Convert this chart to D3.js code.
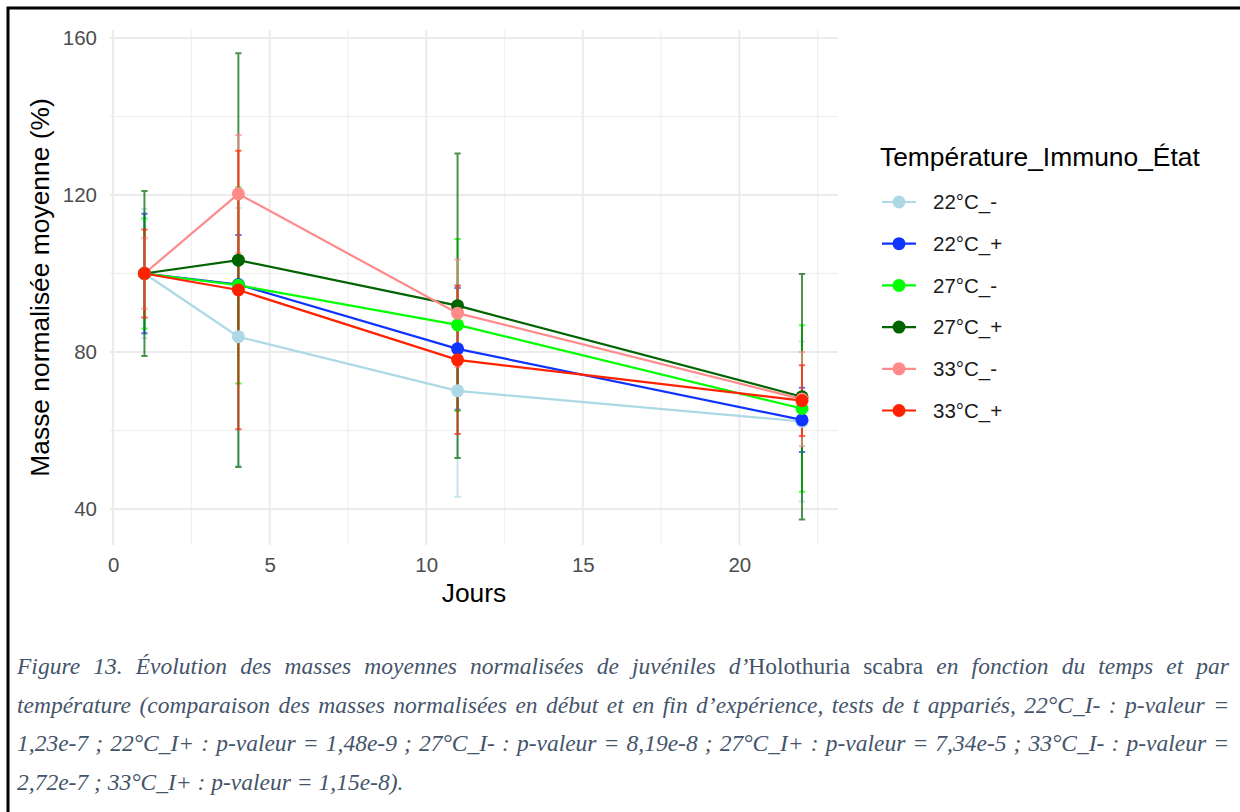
<!DOCTYPE html>
<html>
<head>
<meta charset="utf-8">
<script src="https://cdn.jsdelivr.net/npm/d3@7"></script>
<style>
  body { margin: 0; background: #fff; }
  #wrap { position: relative; width: 1240px; height: 812px; overflow: hidden; }
  .cap { position: absolute; left: 17px; width: 1212px; font-family: "Liberation Serif", "Times New Roman", serif;
         font-style: italic; font-size: 23.5px; line-height: 38.5px; color: #44546a; }
  .cap.just { text-align: justify; text-align-last: justify; }
  .cap .up { font-style: normal; }
</style>
</head>
<body>
<div id="wrap"><svg id="chart" width="1240" height="812"></svg></div>
<script>

var days = [1, 4, 11, 22];
var groups = ["22°C_-", "22°C_+", "27°C_-", "27°C_+", "33°C_-", "33°C_+"];
var colors = ["#add8e6", "#1034ff", "#00ff00", "#006400", "#ff8a8a", "#ff2200"];

// mean normalised mass (%) per group, per day
var means = [
  [100, 83.9, 70.1, 62.3],
  [100, 97.2, 80.8, 62.7],
  [100, 97.0, 86.9, 65.6],
  [100, 103.4, 91.8, 68.6],
  [100, 120.3, 89.9, 68.0],
  [100, 95.8, 78.0, 67.6]
];
// standard deviations
var sds = [
  [16.5, 32.8, 27.0, 20.4],
  [15.2, 12.6, 15.5, 8.2],
  [14.0, 25.0, 21.9, 21.2],
  [21.0, 52.7, 38.8, 31.3],
  [9.0, 15.0, 13.7, 12.0],
  [11.2, 35.5, 18.9, 9.0]
];

var xTicks = [0, 5, 10, 15, 20];
var xMinor = [2.5, 7.5, 12.5, 17.5, 22.5];
var yTicks = [40, 80, 120, 160];
var yMinor = [60, 100, 140];

var captionLines = [
  ["Figure 13. Évolution des masses moyennes normalisées de juvéniles d’", "Holothuria scabra", " en fonction du temps et par"],
  ["température (comparaison des masses normalisées en début et en fin d’expérience, tests de t appariés, 22°C_I- : p-valeur ="],
  ["1,23e-7 ; 22°C_I+ : p-valeur = 1,48e-9 ; 27°C_I- : p-valeur = 8,19e-8 ; 27°C_I+ : p-valeur = 7,34e-5 ; 33°C_I- : p-valeur ="],
  ["2,72e-7 ; 33°C_I+ : p-valeur = 1,15e-8)."]
];

var svg = d3.select("#chart");
var font = "'Liberation Sans', Arial, Helvetica, sans-serif";

var x = d3.scaleLinear().domain([-0.1, 23.15]).range([110, 838]);
var y = d3.scaleLinear().domain([30.83, 162.04]).range([545, 30]);

// frame
svg.append("path")
  .attr("d", "M8,812V8H1240")
  .attr("fill", "none")
  .attr("stroke", "#000")
  .attr("stroke-width", 3);

// grid
var grid = svg.append("g");
grid.selectAll(".xminor").data(xMinor).enter().append("line")
  .attr("x1", x).attr("x2", x).attr("y1", y.range()[0]).attr("y2", y.range()[1])
  .attr("stroke", "#f1f1f1").attr("stroke-width", 1.3);
grid.selectAll(".yminor").data(yMinor).enter().append("line")
  .attr("y1", y).attr("y2", y).attr("x1", x.range()[0]).attr("x2", x.range()[1])
  .attr("stroke", "#f1f1f1").attr("stroke-width", 1.3);
grid.selectAll(".xmajor").data(xTicks).enter().append("line")
  .attr("x1", x).attr("x2", x).attr("y1", y.range()[0]).attr("y2", y.range()[1])
  .attr("stroke", "#ebebeb").attr("stroke-width", 2);
grid.selectAll(".ymajor").data(yTicks).enter().append("line")
  .attr("y1", y).attr("y2", y).attr("x1", x.range()[0]).attr("x2", x.range()[1])
  .attr("stroke", "#ebebeb").attr("stroke-width", 2);

// axis labels
var xAxis = svg.append("g")
  .attr("transform", "translate(0," + (y.range()[0] + 6) + ")")
  .call(d3.axisBottom(x).tickValues(xTicks).tickSize(0).tickPadding(6));
var yAxis = svg.append("g")
  .attr("transform", "translate(" + (x.range()[0] - 9) + ",0)")
  .call(d3.axisLeft(y).tickValues(yTicks).tickSize(0).tickPadding(4));
[xAxis, yAxis].forEach(function(a) {
  a.select(".domain").remove();
  a.selectAll("text").attr("fill", "#4d4d4d").style("font-family", font).style("font-size", "20.5px");
});

svg.append("text")
  .attr("x", d3.mean(x.range())).attr("y", 602)
  .attr("text-anchor", "middle")
  .style("font-family", font).style("font-size", "26.4px")
  .text("Jours");

svg.append("text")
  .attr("transform", "translate(49," + d3.mean(y.range()) + ")rotate(-90)")
  .attr("text-anchor", "middle")
  .style("font-family", font).style("font-size", "26.4px")
  .text("Masse normalisée moyenne (%)");

// build series
var series = groups.map(function(g, i) {
  return {
    name: g,
    color: colors[i],
    values: days.map(function(d, j) { return { day: d, mean: means[i][j], sd: sds[i][j] }; })
  };
});

// error bars
var capW = 0.1;
var eb = svg.append("g").selectAll("g").data(series).enter().append("g")
  .attr("stroke", function(d) { return d.color; })
  .attr("stroke-opacity", 0.7)
  .attr("stroke-width", 2);
eb.selectAll("path").data(function(d) { return d.values; }).enter().append("path")
  .attr("fill", "none")
  .attr("d", function(d) {
    var lo = y(d.mean - d.sd), hi = y(d.mean + d.sd);
    return "M" + x(d.day - capW) + "," + hi + "H" + x(d.day + capW) +
           "M" + x(d.day) + "," + hi + "V" + lo +
           "M" + x(d.day - capW) + "," + lo + "H" + x(d.day + capW);
  });

// lines
var line = d3.line()
  .x(function(d) { return x(d.day); })
  .y(function(d) { return y(d.mean); });

svg.append("g").selectAll("path").data(series).enter().append("path")
  .attr("d", function(d) { return line(d.values); })
  .attr("fill", "none")
  .attr("stroke", function(d) { return d.color; })
  .attr("stroke-width", 2.2);

// points
svg.append("g").selectAll("g").data(series).enter().append("g")
  .attr("fill", function(d) { return d.color; })
  .selectAll("circle").data(function(d) { return d.values; }).enter().append("circle")
  .attr("cx", function(d) { return x(d.day); })
  .attr("cy", function(d) { return y(d.mean); })
  .attr("r", 6.5);

// legend
var legend = svg.append("g").attr("transform", "translate(880,0)");
legend.append("text")
  .attr("x", 0).attr("y", 166)
  .style("font-family", font).style("font-size", "26.4px")
  .text("Température_Immuno_État");

var item = legend.selectAll(".item").data(series).enter().append("g")
  .attr("class", "item")
  .attr("transform", function(d, i) { return "translate(0," + (202 + i * 41.7) + ")"; });
item.append("line")
  .attr("x1", 2).attr("x2", 36)
  .attr("stroke", function(d) { return d.color; })
  .attr("stroke-width", 2.2);
item.append("circle")
  .attr("cx", 19).attr("r", 6.5)
  .attr("fill", function(d) { return d.color; });
item.append("text")
  .attr("x", 53).attr("dy", "0.36em")
  .style("font-family", font).style("font-size", "20.5px")
  .attr("fill", "#1a1a1a")
  .text(function(d) { return d.name; });

// caption
var wrap = d3.select("#wrap");
captionLines.forEach(function(parts, i) {
  var div = wrap.append("div")
    .attr("class", i < captionLines.length - 1 ? "cap just" : "cap")
    .style("top", (647 + i * 38.5) + "px");
  parts.forEach(function(p, k) {
    div.append("span").attr("class", k == 1 ? "up" : null).text(p);
  });
});

</script>
</body>
</html>
